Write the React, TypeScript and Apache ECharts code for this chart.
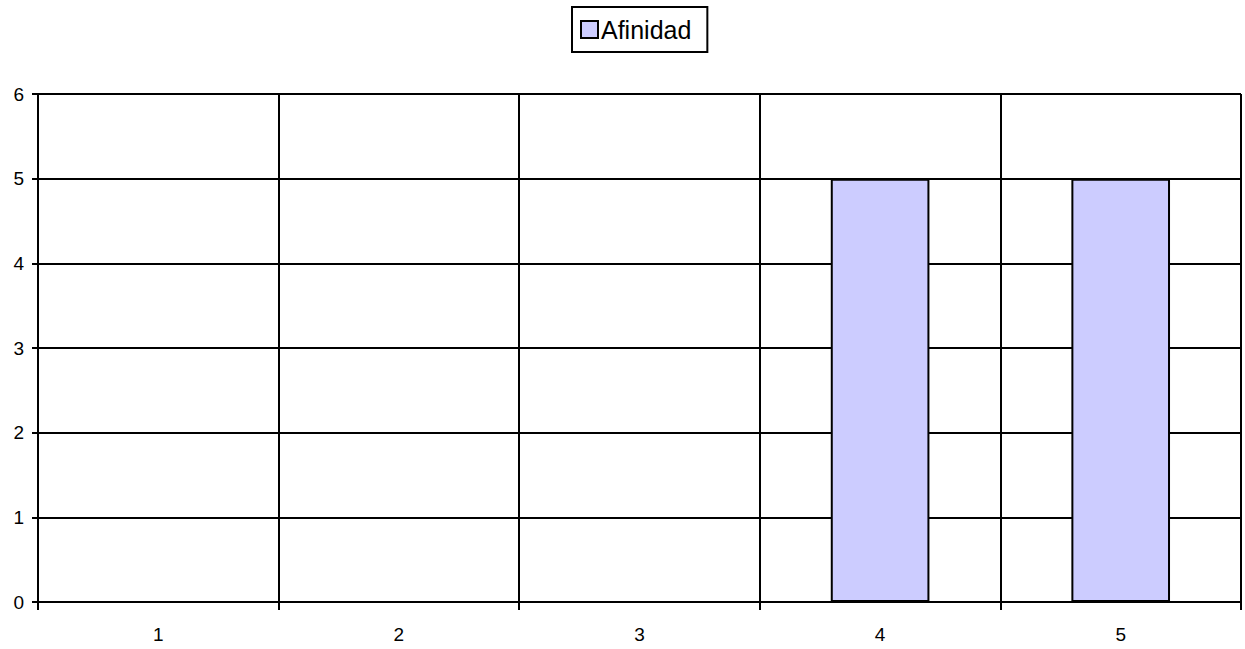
import React, { useEffect, useRef } from "react";
import * as echarts from "echarts";

const categories = ["1", "2", "3", "4", "5"];
const afinidad = [0, 0, 0, 5, 5];
const seriesName = "Afinidad";

export default function App() {
  const ref = useRef<HTMLDivElement>(null);
  useEffect(() => {
    if (!ref.current) return;
    const chart = echarts.init(ref.current, null, { renderer: "svg" });
    chart.setOption({
      animation: false,
      backgroundColor: "#ffffff",
      textStyle: { fontFamily: "Liberation Sans" },
      legend: {
        left: 572,
        top: 7,
        data: [{ name: seriesName, icon: "rect" }],
        itemWidth: 17,
        itemHeight: 17,
        padding: [10, 16, 10, 8],
        borderColor: "#000",
        borderWidth: 2,
        textStyle: { fontSize: 25, color: "#000", padding: [0, 0, 0, -2] },
        selectedMode: false,
      },
      grid: { left: 38, right: 4, top: 94, bottom: 47, containLabel: false, outerBoundsMode: "none" },
      xAxis: {
        type: "category",
        data: categories,
        boundaryGap: true,
        axisLine: { lineStyle: { color: "#000", width: 2 } },
        axisTick: { show: true, length: 8, lineStyle: { color: "#000", width: 2 } },
        splitLine: { show: true, lineStyle: { color: "#000", width: 2 } },
        axisLabel: { color: "#000", fontSize: 19, margin: 23 },
      },
      yAxis: {
        type: "value",
        min: 0,
        max: 6,
        interval: 1,
        axisLine: { show: true, lineStyle: { color: "#000", width: 2 } },
        axisTick: { show: true, length: 6, lineStyle: { color: "#000", width: 2 } },
        splitLine: { show: true, lineStyle: { color: "#000", width: 2 } },
        axisLabel: { color: "#000", fontSize: 19, margin: 14 },
      },
      series: [
        {
          name: seriesName,
          type: "bar",
          data: afinidad,
          barWidth: "41%",
          itemStyle: { color: "#ccccff", borderColor: "#000", borderWidth: 2 },
        },
      ],
    });
    return () => chart.dispose();
  }, []);
  return (
    <div
      ref={ref}
      style={{ position: "fixed", left: 0, top: 0, width: 1245, height: 649 }}
    />
  );
}
